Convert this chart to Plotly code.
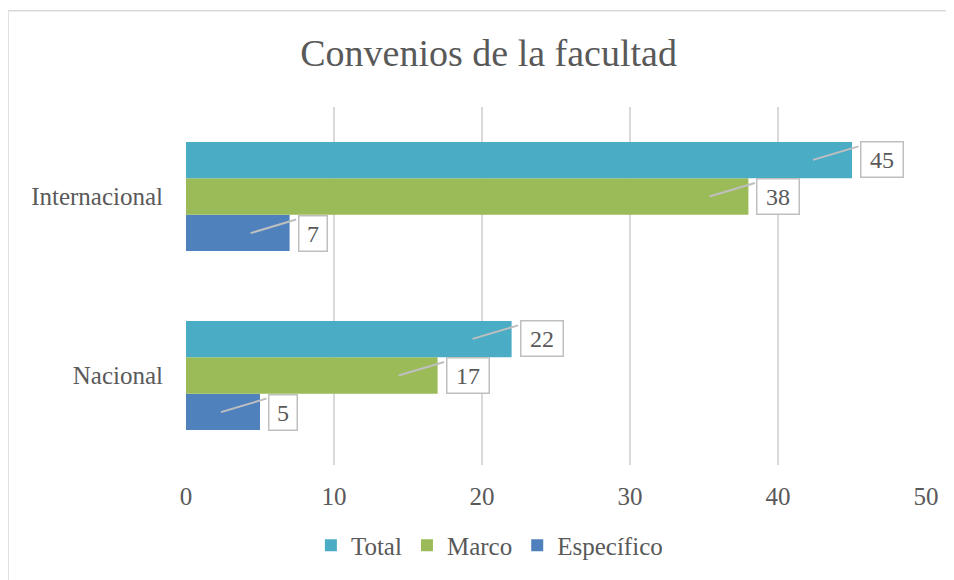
import plotly.graph_objects as go

categories = ["Nacional", "Internacional"]
series_names = ["Específico", "Marco", "Total"]
especifico = [5, 7]
marco = [17, 38]
total = [22, 45]
colors = {"Total": "#4BACC6", "Marco": "#9BBB59", "Específico": "#4F81BD"}

FONT = "Liberation Serif"
GREY = "#595959"

values = {"Específico": especifico, "Marco": marco, "Total": total}

fig = go.Figure()
for name in series_names:
    fig.add_trace(go.Bar(
        y=categories,
        x=values[name],
        name=name,
        orientation="h",
        marker=dict(color=colors[name], line=dict(width=0)),
    ))

# callout labels: bar slot offsets in pixels (bottom to top)
bar_px = 180 * (1 - 0.39) / 3
offsets = {"Específico": -bar_px, "Marco": 0, "Total": bar_px}
for name in series_names:
    for cat, val in zip(categories, values[name]):
        txt = str(val)
        w = 33 if len(txt) > 1 else 19
        # pointer
        fig.add_annotation(
            x=val, y=cat, xref="x", yref="y", text="",
            xshift=-39, yshift=offsets[name],
            showarrow=True, arrowhead=0, arrowwidth=2, arrowcolor="#BFBFBF",
            ax=47, ay=-14,
        )
        # box
        fig.add_annotation(
            x=val, y=cat, xref="x", yref="y", text=txt,
            xshift=8 + (w + 11) / 2, yshift=offsets[name],
            showarrow=False, width=w, height=26,
            font=dict(family=FONT, size=24, color=GREY),
            bgcolor="white", bordercolor="#BFBFBF", borderwidth=1.5, borderpad=4,
        )

fig.update_layout(
    width=946, height=572,
    barmode="group", bargap=0.39, bargroupgap=0,
    plot_bgcolor="white", paper_bgcolor="white",
    margin=dict(l=178, r=28, t=99, b=113),
    font=dict(family=FONT, size=25, color=GREY),
    title=dict(text="Convenios de la facultad", x=0.508, xanchor="center",
               y=0.921, yanchor="middle", font=dict(family=FONT, size=38, color=GREY)),
    xaxis=dict(range=[0, 50], dtick=10, showgrid=True, gridcolor="#D9D9D9", gridwidth=1.5,
               zeroline=False, showline=False, ticks="", ticklabelstandoff=14,
               tickfont=dict(family=FONT, size=25, color=GREY)),
    yaxis=dict(categoryorder="array", categoryarray=categories, showgrid=False,
               zeroline=False, showline=False, ticks="", ticklabelstandoff=22,
               tickfont=dict(family=FONT, size=25, color=GREY)),
    legend=dict(orientation="h", traceorder="reversed", x=0.41, xanchor="center",
                y=-0.225, yanchor="middle", font=dict(family=FONT, size=25, color=GREY),
                itemwidth=30),
    showlegend=True,
    shapes=[dict(type="path", xref="paper", yref="paper",
                 path="M -0.2405,-0.5 L -0.2405,1.269 L 1.2,1.269",
                 line=dict(color="#D9D9D9", width=1.5), layer="below")],
)

fig.write_html("out.html")
